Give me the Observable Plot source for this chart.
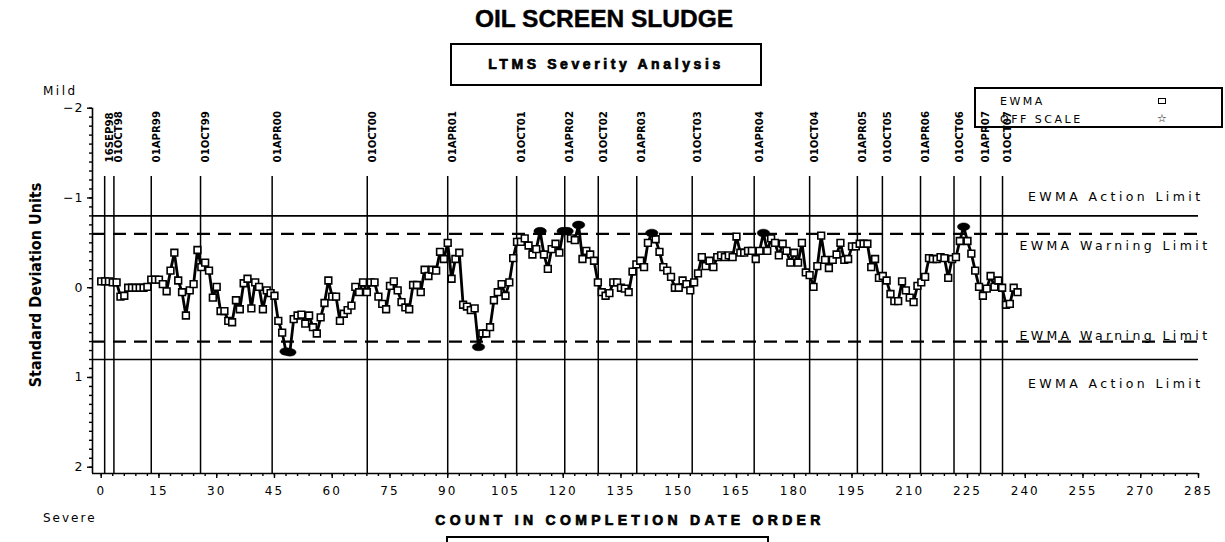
<!DOCTYPE html>
<html>
<head>
<meta charset="utf-8">
<script src="https://cdn.jsdelivr.net/npm/d3@7"></script>
<script src="https://cdn.jsdelivr.net/npm/@observablehq/plot@0.6"></script>
<style>
  body { margin: 0; background: #fff; }
  #wrap { position: relative; width: 1225px; height: 542px; overflow: hidden; background: #fff; color: #000; }
  #chart { position: absolute; left: 0; top: 0; }
  .abs { position: absolute; white-space: nowrap; }
  #title { left: 404px; width: 400px; top: 5px; text-align: center; font: bold 24.5px "Liberation Sans", Arial, sans-serif; -webkit-text-stroke: 0.4px #000; }
  #subbox { left: 450px; top: 43px; width: 308px; height: 39px; border: 2px solid #000; }
  #subtitle { left: 450px; width: 312px; top: 56px; text-align: center; font: bold 14px "Liberation Sans", Arial, sans-serif; letter-spacing: 3.6px; -webkit-text-stroke: 0.7px #000; }
  #xtitle { left: 330px; width: 600px; top: 512px; text-align: center; font: bold 14px "Liberation Sans", Arial, sans-serif; letter-spacing: 4.3px; -webkit-text-stroke: 0.7px #000; }
  #botbox { left: 446px; top: 536px; width: 319px; height: 20px; border: 2px solid #000; border-bottom: none; }
  #ytitle { left: 35px; top: 285px; transform: translate(-50%, -50%) rotate(-90deg); font: bold 16px "Liberation Sans Narrow", "DejaVu Sans Condensed", sans-serif; }
  #mild { left: 43px; top: 84px; font: 12px "DejaVu Sans", sans-serif; letter-spacing: 2.5px; }
  #severe { left: 43px; top: 511px; font: 12px "DejaVu Sans", sans-serif; letter-spacing: 2px; }
  #legbox { left: 974px; top: 87px; width: 245px; height: 37px; border: 2px solid #000; }
  .legtxt { font: 11px "DejaVu Sans", sans-serif; letter-spacing: 2.5px; }
  #legsq { left: 1158px; top: 98px; width: 6px; height: 4px; border: 1.5px solid #000; }
  #legstar { left: 1157px; top: 112px; font: 11px "DejaVu Sans", sans-serif; }
  g[aria-description="limit-labels"] text { letter-spacing: 3.4px; }
  g[aria-description="x-tick-labels"] text { letter-spacing: 2px; }
  g[aria-description="y-tick-labels"] text { letter-spacing: 1px; }
</style>
</head>
<body>
<div id="wrap">
  <div id="chart"></div>
  <div class="abs" id="title">OIL SCREEN SLUDGE</div>
  <div class="abs" id="subbox"></div>
  <div class="abs" id="subtitle">LTMS Severity Analysis</div>
  <div class="abs" id="legbox"></div>
  <div class="abs legtxt" style="left:1000px;top:95px;">EWMA</div>
  <div class="abs" id="legsq"></div>
  <div class="abs legtxt" style="left:1000px;top:113px;">OFF SCALE</div>
  <div class="abs" id="legstar">☆</div>
  <div class="abs" id="mild">Mild</div>
  <div class="abs" id="severe">Severe</div>
  <div class="abs" id="ytitle">Standard Deviation Units</div>
  <div class="abs" id="xtitle">COUNT IN COMPLETION DATE ORDER</div>
  <div class="abs" id="botbox"></div>
</div>
<script>
// EWMA values in completion-date order (count 0, 1, 2, ...), standard deviation units
const ewma = [
  -0.07,-0.07,-0.07,-0.06,-0.06,0.10,0.09,0.00,0.00,0.00,
  0.00,0.00,-0.01,-0.09,-0.09,-0.09,-0.04,0.04,-0.19,-0.39,
  -0.08,0.05,0.31,0.03,-0.04,-0.42,-0.23,-0.28,-0.19,0.11,
  -0.01,0.26,0.26,0.37,0.385,0.14,0.24,-0.05,-0.10,0.23,
  -0.06,-0.01,0.24,0.03,0.06,0.09,0.37,0.50,0.71,0.72,
  0.35,0.31,0.30,0.40,0.31,0.44,0.51,0.33,0.17,-0.08,
  0.10,0.10,0.37,0.29,0.25,0.20,-0.01,0.05,-0.06,0.05,
  -0.06,-0.06,0.10,0.18,0.24,-0.02,-0.07,0.03,0.16,0.22,
  0.24,-0.03,-0.03,0.05,-0.20,-0.13,-0.20,-0.19,-0.40,-0.32,
  -0.50,-0.10,-0.32,-0.39,0.19,0.21,0.25,0.23,0.66,0.51,
  0.51,0.44,0.14,0.05,-0.04,0.09,-0.06,-0.33,-0.51,-0.51,
  -0.55,-0.47,-0.37,-0.43,-0.63,-0.37,-0.21,-0.43,-0.49,-0.39,
  -0.63,-0.63,-0.55,-0.53,-0.70,-0.32,-0.41,-0.37,-0.30,-0.06,
  0.05,0.09,0.06,-0.06,-0.06,0.00,0.01,0.05,-0.18,-0.26,
  -0.30,-0.23,-0.50,-0.61,-0.54,-0.40,-0.23,-0.19,-0.12,0.00,
  0.00,-0.08,-0.04,0.03,-0.06,-0.16,-0.34,-0.24,-0.30,-0.23,
  -0.34,-0.36,-0.34,-0.36,-0.34,-0.57,-0.39,-0.39,-0.41,-0.41,
  -0.32,-0.41,-0.61,-0.41,-0.55,-0.50,-0.36,-0.49,-0.41,-0.28,
  -0.39,-0.28,-0.50,-0.17,-0.14,-0.01,-0.24,-0.58,-0.31,-0.22,
  -0.31,-0.37,-0.50,-0.31,-0.32,-0.46,-0.46,-0.49,-0.49,-0.49,
  -0.23,-0.32,-0.11,-0.13,-0.08,0.07,0.15,0.15,-0.07,0.03,
  0.11,0.16,-0.02,-0.06,-0.12,-0.33,-0.32,-0.32,-0.34,-0.33,
  -0.11,-0.32,-0.34,-0.52,-0.68,-0.52,-0.38,-0.19,-0.01,0.09,
  0.01,-0.13,-0.01,-0.08,0.00,0.19,0.18,0.00,0.05
];
const count = ewma.map((_, i) => i);

// Calendar markers (count position where each date begins)
const dateLabels = ["16SEP98","01OCT98","01APR99","01OCT99","01APR00","01OCT00","01APR01","01OCT01","01APR02","01OCT02",
                    "01APR03","01OCT03","01APR04","01OCT04","01APR05","01OCT05","01APR06","01OCT06","01APR07","01OCT07"];
const datePos = [0.9, 3.3, 13, 25.8, 44.4, 69.1, 90, 107.9, 120.4, 129.1,
                 139.1, 153.5, 169.6, 184, 196.4, 202.9, 212.8, 221.5, 228.4, 234.1];

// Limits
const actionLimit = 0.8;
const warningLimit = 0.6;

// Axes
const xTicks = d3.range(0, 286, 15);
const xMinorTicks = d3.range(0, 286, 3);
const yTicks = [-2, -1, 0, 1, 2];
const yMinorTicks = d3.range(-20, 21).map(d => d / 10);
const xDomain = [-2.26, 285];
const yDomain = [-2, 2.07];
const dateLineTop = -1.24;

const points = ewma.map((v, i) => ({x: count[i], y: v}));
const inside = points.filter(d => Math.abs(d.y) < warningLimit);
const outside = points.filter(d => Math.abs(d.y) >= warningLimit);

const ellipse = {
  draw(ctx) {
    const rx = 6.2, ry = 3.8, k = 0.5523;
    ctx.moveTo(rx, 0);
    ctx.bezierCurveTo(rx, ry * k, rx * k, ry, 0, ry);
    ctx.bezierCurveTo(-rx * k, ry, -rx, ry * k, -rx, 0);
    ctx.bezierCurveTo(-rx, -ry * k, -rx * k, -ry, 0, -ry);
    ctx.bezierCurveTo(rx * k, -ry, rx, -ry * k, rx, 0);
    ctx.closePath();
  }
};

const fmtY = d => d < 0 ? "\u2212" + Math.abs(d) : String(d);
const wideFont = "DejaVu Sans";

const chart = Plot.plot({
  width: 1225,
  height: 542,
  marginLeft: 92,
  marginRight: 27,
  marginTop: 107.7,
  marginBottom: 69,
  x: {domain: xDomain, axis: null},
  y: {domain: yDomain, reverse: true, axis: null},
  style: {background: "transparent", overflow: "visible", color: "#000"},
  marks: [
    // axis lines
    Plot.ruleY([yDomain[1]], {stroke: "#000", strokeWidth: 1.6}),
    Plot.ruleX([xDomain[0]], {y1: yDomain[0], y2: yDomain[1], stroke: "#000", strokeWidth: 1.6}),
    Plot.axisX({ticks: xMinorTicks, tickSize: 3, text: null, label: null, strokeWidth: 1.4}),
    Plot.axisX({ticks: xTicks, tickSize: 5, tickPadding: 8, label: null, strokeWidth: 1.4, fontSize: 12, fontFamily: wideFont, ariaDescription: "x-tick-labels"}),
    Plot.axisY({ticks: yMinorTicks, tickSize: 3, text: null, label: null, strokeWidth: 1.4}),
    Plot.axisY({ticks: yTicks, tickSize: 5, tickPadding: 4, label: null, tickFormat: fmtY, strokeWidth: 1.4, fontSize: 12.5, fontFamily: wideFont, ariaDescription: "y-tick-labels"}),
    // limits
    Plot.ruleY([-actionLimit, actionLimit], {stroke: "#000", strokeWidth: 1.6}),
    Plot.ruleY([-warningLimit, warningLimit], {stroke: "#000", strokeWidth: 2.2, strokeDasharray: "13,8"}),
    Plot.text(["EWMA Action Limit"], {y: -actionLimit, frameAnchor: "right", textAnchor: "end", dy: -19, dx: 5, fontSize: 12.5, fontFamily: wideFont, ariaDescription: "limit-labels"}),
    Plot.text(["EWMA Warning Limit"], {y: -warningLimit, frameAnchor: "right", textAnchor: "end", dy: 12, dx: 12, fontSize: 12.5, fontFamily: wideFont, ariaDescription: "limit-labels"}),
    Plot.text(["EWMA Warning Limit"], {y: warningLimit, frameAnchor: "right", textAnchor: "end", dy: -6, dx: 12, fontSize: 12.5, fontFamily: wideFont, ariaDescription: "limit-labels"}),
    Plot.text(["EWMA Action Limit"], {y: actionLimit, frameAnchor: "right", textAnchor: "end", dy: 24, dx: 5, fontSize: 12.5, fontFamily: wideFont, ariaDescription: "limit-labels"}),
    // date reference lines
    Plot.ruleX(datePos, {y1: dateLineTop, y2: yDomain[1], stroke: "#000", strokeWidth: 1.5}),
    Plot.text(dateLabels, {x: datePos, y: dateLineTop, text: d => d, rotate: -90, textAnchor: "start", lineAnchor: "top", dy: -14, dx: 0.5,
      fontSize: 11.3, fontWeight: "bold", fontFamily: "Liberation Sans Narrow, DejaVu Sans Condensed, sans-serif"}),
    // EWMA series
    Plot.line(points, {x: "x", y: "y", stroke: "#000", strokeWidth: 2.8}),
    Plot.dot(inside, {x: "x", y: "y", symbol: "square", r: 3.8, fill: "#fff", stroke: "#000", strokeWidth: 1.6}),
    Plot.dot(outside, {x: "x", y: "y", symbol: ellipse, fill: "#000", stroke: "#000", strokeWidth: 0.5})
  ]
});
document.getElementById("chart").appendChild(chart);
</script>
</body>
</html>
